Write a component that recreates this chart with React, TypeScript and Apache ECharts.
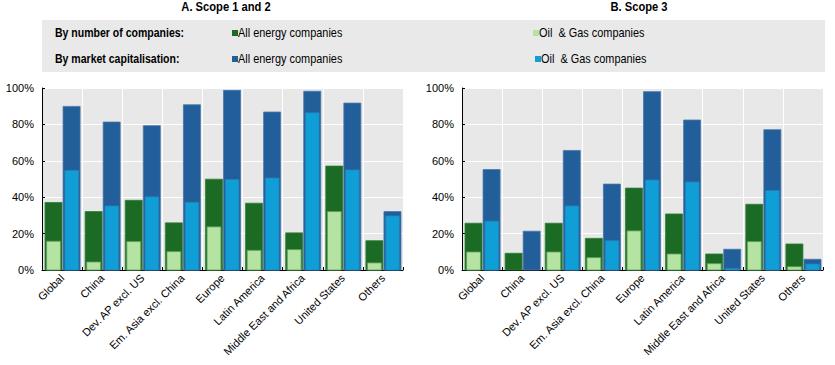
import React, { useEffect, useRef } from "react";
import * as echarts from "echarts";

const categories = [
  "Global",
  "China",
  "Dev. AP excl. US",
  "Em. Asia excl. China",
  "Europe",
  "Latin America",
  "Middle East and Africa",
  "United States",
  "Others",
];

// Panel A: Scope 1 and 2
const numAllA = [37.1, 32.1, 38.3, 25.9, 49.9, 36.7, 20.4, 57.1, 16.1];
const numOgA = [15.8, 4.4, 15.6, 10.1, 23.7, 10.8, 11.2, 32.1, 3.9];
const capAllA = [89.9, 81.3, 79.3, 90.8, 98.7, 86.8, 98.2, 91.7, 32.1];
const capOgA = [54.7, 35.2, 40.2, 37.2, 49.7, 50.6, 86.4, 55.0, 29.7];

// Panel B: Scope 3
const numAllB = [25.7, 9.2, 25.7, 17.4, 45.0, 30.8, 8.8, 36.1, 14.3];
const numOgB = [9.9, 0, 9.9, 6.8, 21.5, 8.8, 3.5, 15.6, 1.8];
const capAllB = [55.2, 21.3, 65.7, 47.2, 98.0, 82.4, 11.4, 77.1, 5.9];
const capOgB = [26.8, 0, 35.2, 16.1, 49.5, 48.4, 0.9, 43.7, 3.3];

const panelTitles = ["A. Scope 1 and 2", "B. Scope 3"];
const yTicks = [0, 20, 40, 60, 80, 100];

const C_DARK_GREEN = "#1c6b24";
const C_LIGHT_GREEN = "#b5e3a2";
const C_DARK_BLUE = "#215e9a";
const C_LIGHT_BLUE = "#109ed6";

const SANS = "'Liberation Sans', Arial, sans-serif";

function makeRender(l: number, r: number, fill: string, stroke: string) {
  return (params: any, api: any) => {
    const idx = api.value(0);
    const v = api.value(1);
    if (!v) return { type: "group", children: [] };
    const p0 = api.coord([idx, 0]);
    const p1 = api.coord([idx, v]);
    const bw = api.size([1, 0])[0];
    const x0 = p0[0] + l * bw;
    const x1 = p0[0] + r * bw;
    return {
      type: "rect",
      shape: { x: x0, y: p1[1], width: x1 - x0, height: p0[1] - p1[1] },
      style: { fill, stroke, lineWidth: 0.8 },
    };
  };
}

function seriesFor(gridIdx: number, numAll: number[], numOg: number[], capAll: number[], capOg: number[]) {
  const mk = (name: string, vals: number[], l: number, r: number, fill: string, stroke: string) => ({
    type: "custom",
    name,
    xAxisIndex: gridIdx,
    yAxisIndex: gridIdx,
    renderItem: makeRender(l, r, fill, stroke),
    encode: { x: 0, y: 1 },
    data: vals.map((v, i) => [i, v]),
  });
  return [
    mk("By number of companies: All energy companies", numAll, -0.425, 0, C_DARK_GREEN, "#2f7d37"),
    mk("By market capitalisation: All energy companies", capAll, 0.025, 0.45, C_DARK_BLUE, "#4a77a8"),
    mk("By number of companies: Oil & Gas companies", numOg, -0.385, -0.04, C_LIGHT_GREEN, "#5f9e5a"),
    mk("By market capitalisation: Oil & Gas companies", capOg, 0.07, 0.41, C_LIGHT_BLUE, "#2a7fb8"),
  ];
}

function axisPair(gridIdx: number) {
  return {
    x: {
      type: "category",
      gridIndex: gridIdx,
      data: categories,
      axisLine: { show: true, lineStyle: { color: "#000", width: 1 } },
      axisTick: { show: true, inside: true, length: 3, lineStyle: { color: "#000" } },
      axisLabel: {
        interval: 0,
        rotate: 45,
        fontSize: 11,
        color: "#000",
        fontFamily: SANS,
        margin: 6,
      },
      splitLine: { show: true, interval: 0, lineStyle: { color: "#ffffff", width: 1 } },
    },
    y: {
      type: "value",
      gridIndex: gridIdx,
      min: yTicks[0],
      max: yTicks[yTicks.length - 1],
      interval: 20,
      axisLine: { show: true, lineStyle: { color: "#000", width: 1 } },
      axisTick: { show: true, inside: true, length: 3, lineStyle: { color: "#000" } },
      axisLabel: {
        formatter: "{value}%",
        fontSize: 11,
        color: "#000",
        fontFamily: SANS,
        margin: 8,
      },
      splitLine: { show: true, lineStyle: { color: "#ffffff", width: 1 } },
    },
  };
}

export default function App() {
  const ref = useRef<HTMLDivElement>(null);
  useEffect(() => {
    if (!ref.current) return;
    const chart = echarts.init(ref.current, null, { renderer: "svg" });
    const a0 = axisPair(0);
    const a1 = axisPair(1);
    const legendRows = [
      { label: "By number of companies:", y: 33, c1: C_DARK_GREEN, c2: C_LIGHT_GREEN, ox: 533 },
      { label: "By market capitalisation:", y: 59, c1: C_DARK_BLUE, c2: C_LIGHT_BLUE, ox: 535 },
    ];
    const graphics: any[] = [
      { type: "rect", shape: { x: 42, y: 20, width: 783, height: 52 }, style: { fill: "#e9e9e9" }, z: -1 },
      {
        type: "text",
        x: 226,
        y: 7,
        scaleX: 0.86,
        style: { text: panelTitles[0], fontFamily: SANS, fontWeight: "bold", fontSize: 13, fill: "#000", align: "center", verticalAlign: "middle" },
      },
      {
        type: "text",
        x: 639,
        y: 7,
        scaleX: 0.86,
        style: { text: panelTitles[1], fontFamily: SANS, fontWeight: "bold", fontSize: 13, fill: "#000", align: "center", verticalAlign: "middle" },
      },
    ];
    legendRows.forEach((r) => {
      graphics.push({
        type: "text",
        x: 55,
        y: r.y,
        scaleX: 0.81,
        style: { text: r.label, fontFamily: SANS, fontWeight: "bold", fontSize: 13, fill: "#000", verticalAlign: "middle" },
      });
      graphics.push({ type: "rect", shape: { x: 232, y: r.y - 3, width: 6, height: 6 }, style: { fill: r.c1 } });
      graphics.push({
        type: "text",
        x: 238,
        y: r.y,
        scaleX: 0.84,
        style: { text: "All energy companies", fontFamily: SANS, fontSize: 13, fill: "#000", verticalAlign: "middle" },
      });
      graphics.push({ type: "rect", shape: { x: r.ox, y: r.y - 3, width: 6, height: 6 }, style: { fill: r.c2 } });
      graphics.push({
        type: "text",
        x: r.ox + 6,
        y: r.y,
        scaleX: 0.84,
        style: { text: "Oil  & Gas companies", fontFamily: SANS, fontSize: 13, fill: "#000", verticalAlign: "middle" },
      });
    });

    chart.setOption({
      animation: false,
      backgroundColor: "#ffffff",
      grid: [
        { left: 42, right: 432, top: 88, bottom: 95, show: true, backgroundColor: "#e8e8e8", borderWidth: 0 },
        { left: 462, right: 12, top: 88, bottom: 95, show: true, backgroundColor: "#e8e8e8", borderWidth: 0 },
      ],
      xAxis: [a0.x, a1.x],
      yAxis: [a0.y, a1.y],
      series: [
        ...seriesFor(0, numAllA, numOgA, capAllA, capOgA),
        ...seriesFor(1, numAllB, numOgB, capAllB, capOgB),
      ],
      graphic: graphics,
    });
    return () => chart.dispose();
  }, []);
  return <div ref={ref} style={{ position: "fixed", left: 0, top: 0, width: 835, height: 365 }} />;
}
